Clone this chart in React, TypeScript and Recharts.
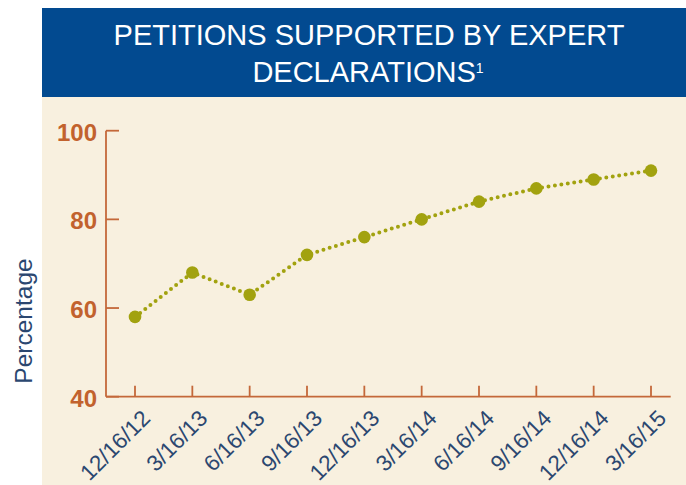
import React from 'react';
import { LineChart, Line, XAxis, YAxis } from 'recharts';

const dates = ['12/16/12', '3/16/13', '6/16/13', '9/16/13', '12/16/13', '3/16/14', '6/16/14', '9/16/14', '12/16/14', '3/16/15'];
const percentages = [58, 68, 63, 72, 76, 80, 84, 87, 89, 91];
const yTicks = [40, 60, 80, 100];
const titleLine1 = 'PETITIONS SUPPORTED BY EXPERT';
const titleLine2 = 'DECLARATIONS';
const footnote = '1';
const yLabel = 'Percentage';

const data = dates.map((d, i) => ({ date: d, value: percentages[i] }));

const W = 686;
const H = 485;
const PLOT_LEFT = 106;
const PLOT_TOP = 130.7;
const PLOT_RIGHT = 670.7;
const PLOT_BOTTOM = 396.7;
const Y_AXIS_W = 60;
const X_AXIS_H = 60;

const ORANGE = '#c4683a';
const LABEL_ORANGE = '#c2622d';
const NAVY = '#2b4770';
const OLIVE = '#a2a20f';
const BLUE = '#024a90';
const BEIGE = '#f8f0df';
const FONT = '"Liberation Sans", Arial, Helvetica, sans-serif';

const YTick = (props: any) => {
  const { y, payload } = props;
  return (
    <g>
      <line x1={PLOT_LEFT} x2={PLOT_LEFT + 13} y1={y} y2={y} stroke={ORANGE} strokeWidth={1.8} />
      <text x={PLOT_LEFT - 9} y={y} dy={10} textAnchor="end" fontSize={24} fontWeight="bold" fill={LABEL_ORANGE} fontFamily={FONT}>
        {payload.value}
      </text>
    </g>
  );
};

const XTick = (props: any) => {
  const { x, payload } = props;
  const tx = x + 16.5;
  const ty = PLOT_BOTTOM + 23;
  return (
    <g>
      <line x1={x} x2={x} y1={PLOT_BOTTOM} y2={PLOT_BOTTOM - 11} stroke={ORANGE} strokeWidth={1.8} />
      <text x={tx} y={ty} transform={`rotate(-45 ${tx} ${ty})`} textAnchor="end" fontSize={22.5} fill={NAVY} fontFamily={FONT}>
        {payload.value}
      </text>
    </g>
  );
};

export default function App() {
  return (
    <div style={{ position: 'absolute', left: 0, top: 0, width: W, height: H, background: '#ffffff' }}>
      <div style={{ position: 'absolute', left: 42, top: 97, width: W - 42, height: H - 97, background: BEIGE }} />
      <div style={{ position: 'absolute', left: 42, top: 8, width: W - 42, height: 89, background: BLUE }} />
      <svg style={{ position: 'absolute', left: 0, top: 0 }} width={W} height={100}>
        <text x={369} y={45} textAnchor="middle" fontSize={29} fill="#ffffff" fontFamily={FONT}>
          {titleLine1}
        </text>
        <text x={368} y={82} textAnchor="middle" fontSize={29} fill="#ffffff" fontFamily={FONT}>
          {titleLine2}
          <tspan fontSize={14} dy={-9}>{footnote}</tspan>
        </text>
      </svg>
      <div style={{ position: 'absolute', left: 0, top: 0 }}>
        <LineChart
          width={W}
          height={H}
          data={data}
          margin={{ top: PLOT_TOP, left: PLOT_LEFT - Y_AXIS_W, right: W - PLOT_RIGHT, bottom: H - PLOT_BOTTOM - X_AXIS_H }}
        >
          <XAxis
            dataKey="date"
            interval={0}
            height={X_AXIS_H}
            padding={{ left: 29, right: 19.7 }}
            axisLine={{ stroke: ORANGE, strokeWidth: 1.8 }}
            tickLine={false}
            tick={<XTick />}
          />
          <YAxis
            domain={[40, 100]}
            ticks={yTicks}
            width={Y_AXIS_W}
            axisLine={{ stroke: ORANGE, strokeWidth: 1.8 }}
            tickLine={false}
            tick={<YTick />}
          />
          <Line
            type="linear"
            dataKey="value"
            stroke={OLIVE}
            strokeWidth={4}
            strokeDasharray="0 6.5"
            strokeLinecap="round"
            dot={{ r: 6.3, fill: OLIVE, stroke: 'none' }}
            activeDot={false}
            isAnimationActive={false}
          />
        </LineChart>
      </div>
      <svg style={{ position: 'absolute', left: 0, top: 0, pointerEvents: 'none' }} width={W} height={H}>
        <text x={31.7} y={321} transform="rotate(-90 31.7 321)" textAnchor="middle" fontSize={24.5} fill={NAVY} fontFamily={FONT}>
          {yLabel}
        </text>
      </svg>
    </div>
  );
}
